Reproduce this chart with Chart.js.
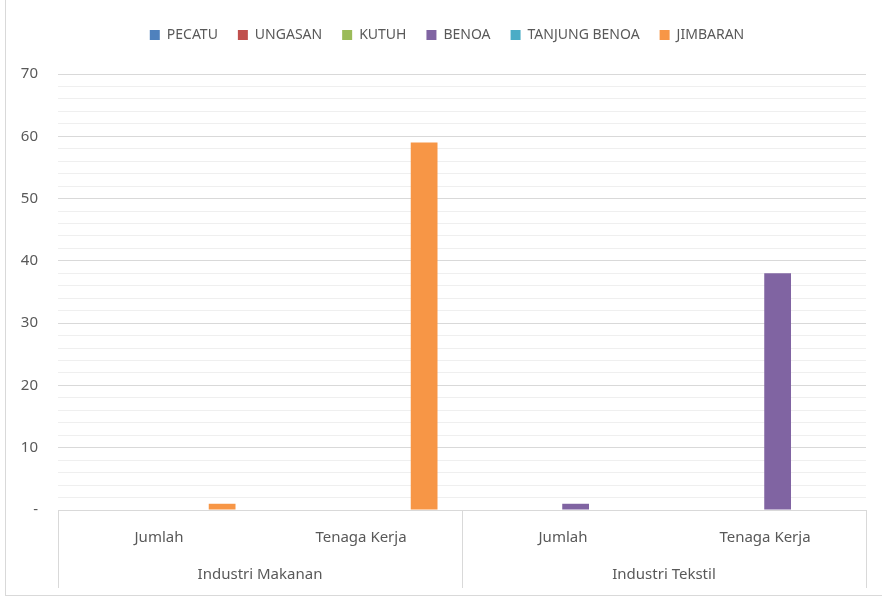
<!DOCTYPE html>
<html>
<head>
<meta charset="utf-8">
<script src="https://cdn.jsdelivr.net/npm/chart.js@4"></script>
<style>
    html, body { margin: 0; padding: 0; background: #ffffff; }
    #wrap { position: relative; width: 882px; height: 597px; overflow: hidden; }
    #frame { position: absolute; left: 5px; top: -2px; width: 880px; height: 598px; border: 1px solid #d9d9d9; box-sizing: border-box; }
    canvas { position: absolute; left: 0; top: 0; }
</style>
</head>
<body>
<div id="wrap">
    <div id="frame"></div>
    <canvas id="chart" width="882" height="597"></canvas>
</div>
<script>
// カテゴリ（下段の項目）とグループ（上位の区分）
const categories = ['Jumlah', 'Tenaga Kerja', 'Jumlah', 'Tenaga Kerja'];
const groups = ['Industri Makanan', 'Industri Tekstil'];

// 系列ごとの値
const pecatu = [0, 0, 0, 0];
const ungasan = [0, 0, 0, 0];
const kutuh = [0, 0, 0, 0];
const benoa = [0, 0, 1, 38];
const tanjungBenoa = [0, 0, 0, 0];
const jimbaran = [1, 59, 0, 0];

// Y軸の目盛り
const yMin = 0;
const yMax = 70;
const yMajorStep = 10;
const yMinorStep = 2;

const textColor = '#595959';
const fontFamily = "'Noto Sans', 'Open Sans', sans-serif";

// 凡例の下に余白を足し、少し右へずらすプラグイン
const legendGap = {
    id: 'legendGap',
    beforeLayout(chart) {
        const lg = chart.legend;
        if (lg && !lg._gapPatched) {
            const fit = lg.fit;
            lg.fit = function() {
                fit.call(this);
                this.height += 22;
            };
            lg._gapPatched = true;
        }
    },
    afterLayout(chart) {
        const lg = chart.legend;
        if (lg) {
            lg.left += 14;
            lg.right += 14;
        }
    }
};

// グループの区切り線を描くプラグイン
const groupSeparators = {
    id: 'groupSeparators',
    afterDraw(chart) {
        const ctx = chart.ctx;
        const x = chart.scales.x;
        const x2 = chart.scales.x2;
        const area = chart.chartArea;
        const mid = (x.getPixelForValue(1) + x.getPixelForValue(2)) / 2;
        const xs = [area.left, mid, area.right];
        ctx.save();
        ctx.strokeStyle = '#d9d9d9';
        ctx.lineWidth = 1;
        xs.forEach(function(px) {
            const p = Math.round(px) + 0.5;
            ctx.beginPath();
            ctx.moveTo(p, area.bottom);
            ctx.lineTo(p, x2.bottom - 5);
            ctx.stroke();
        });
        ctx.restore();
    }
};

function makeSet(label, data, color) {
    return {
        label: label,
        data: data,
        backgroundColor: color,
        borderWidth: 0,
        categoryPercentage: 0.75,
        barPercentage: 1.06
    };
}

new Chart(document.getElementById('chart'), {
    type: 'bar',
    data: {
        labels: categories,
        datasets: [
            makeSet('PECATU', pecatu, '#4f81bd'),
            makeSet('UNGASAN', ungasan, '#c0504d'),
            makeSet('KUTUH', kutuh, '#9bbb59'),
            makeSet('BENOA', benoa, '#8064a2'),
            makeSet('TANJUNG BENOA', tanjungBenoa, '#4bacc6'),
            makeSet('JIMBARAN', jimbaran, '#f79646')
        ]
    },
    options: {
        responsive: false,
        animation: false,
        layout: { padding: { top: 8, right: 16, bottom: 4, left: 0 } },
        plugins: {
            tooltip: { enabled: false },
            legend: {
                position: 'top',
                labels: {
                    boxWidth: 10,
                    boxHeight: 10,
                    padding: 20,
                    color: textColor,
                    font: { family: fontFamily, size: 14 }
                }
            }
        },
        scales: {
            y: {
                min: yMin,
                max: yMax,
                ticks: {
                    stepSize: yMinorStep,
                    autoSkip: false,
                    padding: 20,
                    color: textColor,
                    font: { family: fontFamily, size: 15 },
                    callback: function(v) {
                        if (v === 0) return '-';
                        return v % yMajorStep === 0 ? v : '';
                    }
                },
                grid: {
                    drawTicks: false,
                    color: function(c) {
                        return c.tick.value % yMajorStep === 0 ? '#d9d9d9' : '#efefef';
                    }
                },
                border: { display: false },
                afterFit: function(scale) { scale.width = 58; }
            },
            x: {
                position: 'bottom',
                grid: { display: false, drawTicks: false },
                border: { color: '#d9d9d9' },
                ticks: {
                    padding: 19,
                    maxRotation: 0,
                    color: textColor,
                    font: { family: fontFamily, size: 15 }
                },
                afterFit: function(scale) { scale.height = 45; }
            },
            x2: {
                type: 'category',
                position: 'bottom',
                labels: groups,
                offset: true,
                grid: { display: false, drawTicks: false },
                border: { display: false },
                ticks: {
                    padding: 11,
                    maxRotation: 0,
                    color: textColor,
                    font: { family: fontFamily, size: 15 }
                },
                afterFit: function(scale) { scale.height = 38; }
            }
        }
    },
    plugins: [legendGap, groupSeparators]
});
</script>
</body>
</html>
